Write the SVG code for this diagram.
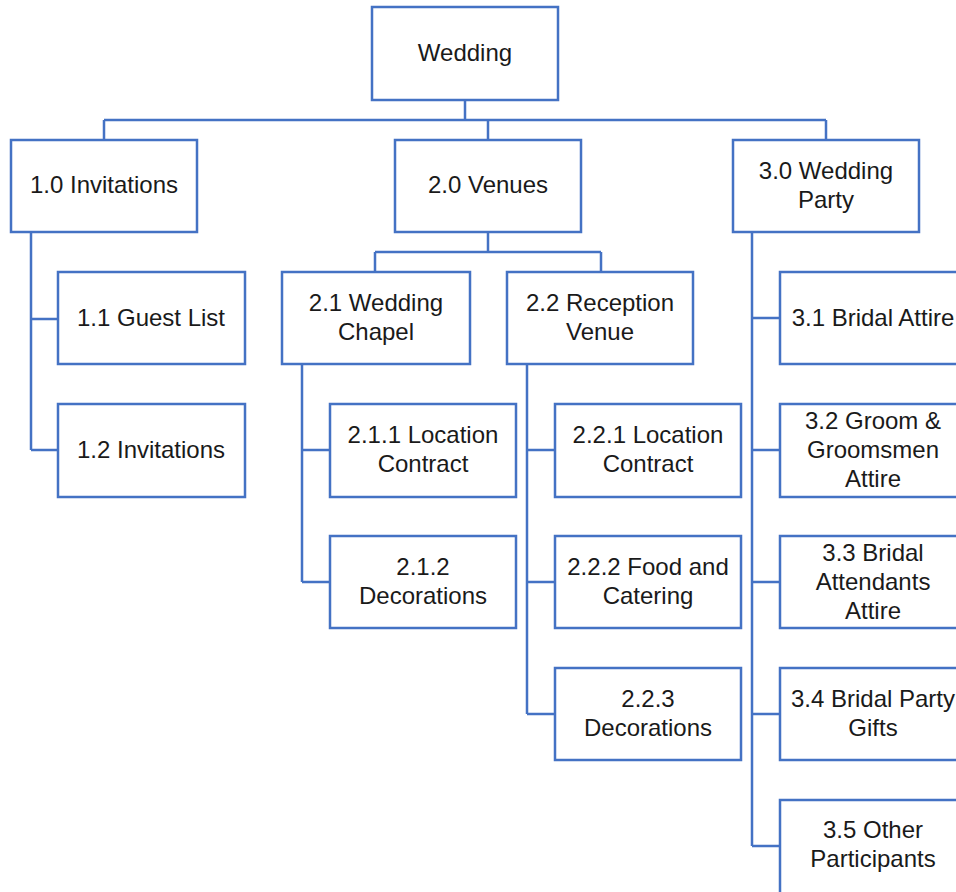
<svg xmlns="http://www.w3.org/2000/svg" width="956" height="892" viewBox="0 0 956 892">
  <style>
    .box { fill: #ffffff; stroke: #4472C4; stroke-width: 2.5; }
    .lbl { font-family: "Liberation Sans", Arial, sans-serif; font-size: 24px; fill: #1a1a1a; text-anchor: middle; }
    .wire { fill: none; stroke: #4472C4; stroke-width: 2.5; }
  </style>
  <rect width="956" height="892" fill="#ffffff"/>

  <!-- connectors -->
  <g id="connectors" class="wire">
    <path d="M465,100 V120 M104,120 H826 M104,120 V140 M488,120 V140 M826,120 V140"/>
    <path d="M31,232 V450 M31,319 H58 M31,450 H58"/>
    <path d="M488,232 V252 M375,252 H601 M375,252 V272 M601,252 V272"/>
    <path d="M302,364 V582 M302,450 H330 M302,582 H330"/>
    <path d="M527,364 V714 M527,450 H555 M527,582 H555 M527,714 H555"/>
    <path d="M752,232 V846 M752,318 H780 M752,450 H780 M752,582 H780 M752,714 H780 M752,846 H780"/>
  </g>

  <!-- root -->
  <g id="wedding">
    <rect class="box" x="372" y="7" width="186" height="93"/>
    <text class="lbl" x="465" y="61">Wedding</text>
  </g>

  <!-- level 1 -->
  <g id="n1-0">
    <rect class="box" x="11" y="140" width="186" height="92"/>
    <text class="lbl" x="104" y="193">1.0 Invitations</text>
  </g>
  <g id="n2-0">
    <rect class="box" x="395" y="140" width="186" height="92"/>
    <text class="lbl" x="488" y="193">2.0 Venues</text>
  </g>
  <g id="n3-0">
    <rect class="box" x="733" y="140" width="186" height="92"/>
    <text class="lbl" x="826" y="179">3.0 Wedding</text>
    <text class="lbl" x="826" y="208">Party</text>
  </g>

  <!-- branch 1 -->
  <g id="n1-1">
    <rect class="box" x="58" y="272" width="187" height="92"/>
    <text class="lbl" x="151" y="326">1.1 Guest List</text>
  </g>
  <g id="n1-2">
    <rect class="box" x="58" y="404" width="187" height="93"/>
    <text class="lbl" x="151" y="458">1.2 Invitations</text>
  </g>

  <!-- branch 2 -->
  <g id="n2-1">
    <rect class="box" x="282" y="272" width="188" height="92"/>
    <text class="lbl" x="376" y="311">2.1 Wedding</text>
    <text class="lbl" x="376" y="340">Chapel</text>
  </g>
  <g id="n2-2">
    <rect class="box" x="507" y="272" width="186" height="92"/>
    <text class="lbl" x="600" y="311">2.2 Reception</text>
    <text class="lbl" x="600" y="340">Venue</text>
  </g>
  <g id="n2-1-1">
    <rect class="box" x="330" y="404" width="186" height="93"/>
    <text class="lbl" x="423" y="443">2.1.1 Location</text>
    <text class="lbl" x="423" y="472">Contract</text>
  </g>
  <g id="n2-1-2">
    <rect class="box" x="330" y="536" width="186" height="92"/>
    <text class="lbl" x="423" y="575">2.1.2</text>
    <text class="lbl" x="423" y="604">Decorations</text>
  </g>
  <g id="n2-2-1">
    <rect class="box" x="555" y="404" width="186" height="93"/>
    <text class="lbl" x="648" y="443">2.2.1 Location</text>
    <text class="lbl" x="648" y="472">Contract</text>
  </g>
  <g id="n2-2-2">
    <rect class="box" x="555" y="536" width="186" height="92"/>
    <text class="lbl" x="648" y="575">2.2.2 Food and</text>
    <text class="lbl" x="648" y="604">Catering</text>
  </g>
  <g id="n2-2-3">
    <rect class="box" x="555" y="668" width="186" height="92"/>
    <text class="lbl" x="648" y="707">2.2.3</text>
    <text class="lbl" x="648" y="736">Decorations</text>
  </g>

  <!-- branch 3 -->
  <g id="n3-1">
    <rect class="box" x="780" y="272" width="190" height="92"/>
    <text class="lbl" x="873" y="326">3.1 Bridal Attire</text>
  </g>
  <g id="n3-2">
    <rect class="box" x="780" y="404" width="190" height="93"/>
    <text class="lbl" x="873" y="429">3.2 Groom &amp;</text>
    <text class="lbl" x="873" y="458">Groomsmen</text>
    <text class="lbl" x="873" y="487">Attire</text>
  </g>
  <g id="n3-3">
    <rect class="box" x="780" y="536" width="190" height="92"/>
    <text class="lbl" x="873" y="561">3.3 Bridal</text>
    <text class="lbl" x="873" y="590">Attendants</text>
    <text class="lbl" x="873" y="619">Attire</text>
  </g>
  <g id="n3-4">
    <rect class="box" x="780" y="668" width="190" height="92"/>
    <text class="lbl" x="873" y="707">3.4 Bridal Party</text>
    <text class="lbl" x="873" y="736">Gifts</text>
  </g>
  <g id="n3-5">
    <rect class="box" x="780" y="800" width="190" height="100"/>
    <text class="lbl" x="873" y="838">3.5 Other</text>
    <text class="lbl" x="873" y="867">Participants</text>
  </g>
</svg>
